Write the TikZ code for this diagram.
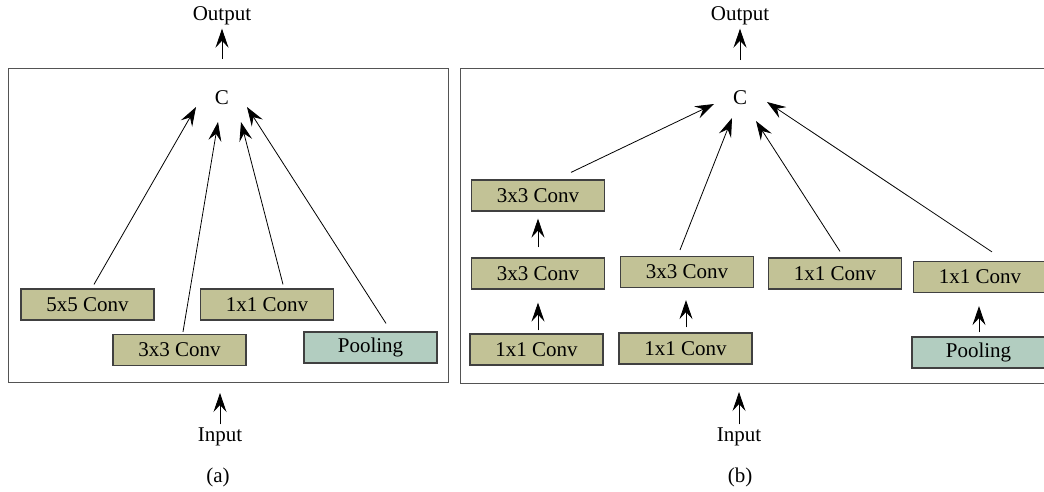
\documentclass[tikz,border=0pt]{standalone}
\usepackage{fontspec}
\setmainfont{Liberation Serif}
\usetikzlibrary{arrows.meta}
\definecolor{convfill}{RGB}{194,194,150}
\definecolor{poolfill}{RGB}{178,205,192}
\definecolor{edgegray}{RGB}{64,64,64}
\tikzset{
	conv/.style={draw=edgegray, line width=1.2pt, fill=convfill, minimum width=133pt, minimum height=31pt, inner sep=0pt},
	pool/.style={conv, fill=poolfill},
	arr/.style={-{Stealth[length=19pt,width=13pt,inset=7pt]}, line width=0.8pt},
	frame/.style={draw=edgegray!90, line width=1pt},
}
\begin{document}
\begin{tikzpicture}[x=1pt,y=-1pt,font=\fontsize{21}{25}\selectfont]
				\useasboundingbox (0,0) rectangle (1044,491);
				\clip (0,0) rectangle (1044,491);
				% left module
				\draw[frame] (8,68) rectangle (448,382);
				\coordinate (fa-top) at (222,68);
				\coordinate (fa-bot) at (220,382);
				\node (outa) at (222,16) {Output};
				\node (ina) at (220,437) {Input};
				\node (laba) at (218,477) {(a)};
				\node (ca) at (222,98) {C};
				\node[conv] (c55) at (87.5,304.5) {5x5 Conv};
				\node[conv] (c33) at (179.5,350) {3x3 Conv};
				\node[conv] (c11) at (267,304.5) {1x1 Conv};
				\node[pool] (pa) at (370.5,347.5) {Pooling};
				\draw[arr] ([shift={(0,-9)}]fa-top) -- (outa.south);
				\draw[arr] (ina.north) -- ([shift={(0,11)}]fa-bot);
				\draw[arr] ([shift={(6.5,-4)}]c55.north) -- ([shift={(-26,9)}]ca.center);
				\draw[arr] ([shift={(3.5,-2)}]c33.north) -- ([shift={(-4,24)}]ca.center);
				\draw[arr] ([shift={(16,-4)}]c11.north) -- ([shift={(19,24)}]ca.center);
				\draw[arr] ([shift={(15.5,-8)}]pa.north) -- ([shift={(25,9)}]ca.center);
				% right module
				\draw[frame] (460,68) rectangle (1060,383);
				\coordinate (fb-top) at (740,68);
				\coordinate (fb-bot) at (739,383);
				\node (outb) at (740,16) {Output};
				\node (inb) at (739,437) {Input};
				\node (labb) at (740,477) {(b)};
				\node (cb) at (740,98) {C};
				\node[conv] (t1) at (538,195.5) {3x3 Conv};
				\node[conv] (m1) at (538,273.5) {3x3 Conv};
				\node[conv] (b1) at (536.5,349.5) {1x1 Conv};
				\node[conv] (m2) at (687,272) {3x3 Conv};
				\node[conv] (b2) at (685.5,348.5) {1x1 Conv};
				\node[conv] (m3) at (835,273.5) {1x1 Conv};
				\node[conv] (m4) at (980,277) {1x1 Conv};
				\node[pool] (pb) at (978.5,352.5) {Pooling};
				\draw[arr] ([shift={(0,-8)}]fb-top) -- (outb.south);
				\draw[arr] (inb.north) -- ([shift={(0,9)}]fb-bot);
				\draw[arr] ([shift={(0,-10)}]m1.north) -- ([shift={(0,7)}]t1.south);
				\draw[arr] ([shift={(1.5,-3)}]b1.north) -- ([shift={(0,13)}]m1.south);
				\draw[arr] ([shift={(0.5,-5)}]b2.north) -- ([shift={(-1,12)}]m2.south);
				\draw[arr] ([shift={(0.5,-4)}]pb.north) -- ([shift={(-1,13)}]m4.south);
				\draw[arr] ([shift={(33,-7)}]t1.north) -- ([shift={(-26,6)}]cb.center);
				\draw[arr] ([shift={(-7,-6)}]m2.north) -- ([shift={(-8,20)}]cb.center);
				\draw[arr] ([shift={(5,-6)}]m3.north) -- ([shift={(16,23)}]cb.center);
				\draw[arr] ([shift={(12,-9)}]m4.north) -- ([shift={(27,4)}]cb.center);
\end{tikzpicture}
\end{document}
